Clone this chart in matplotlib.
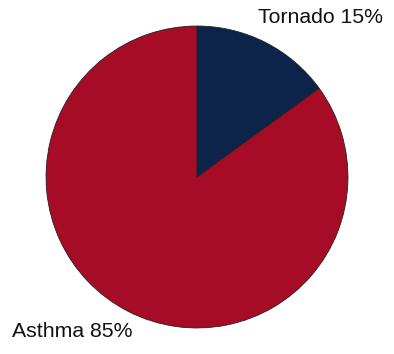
import matplotlib.pyplot as plt

labels = ["Tornado", "Asthma"]
shares = [15, 85]
colors = ["#0C244A", "#A60C26"]

fig = plt.figure(figsize=(3.94, 3.54), dpi=100)
ax = fig.add_axes([0, 0, 1, 1])

ax.pie(shares, colors=colors, startangle=90, counterclock=False,
       radius=1.0, center=(0, 0),
       wedgeprops=dict(edgecolor="#222222", linewidth=0.6))
ax.set_xlim(-1.305, 1.305)
ax.set_ylim(-1.172, 1.172)
ax.set_aspect("equal")
ax.axis("off")

font = ["Liberation Sans", "DejaVu Sans"]
fig.text(383 / 394, 1 - 23 / 354, "%s %d%%" % (labels[0], shares[0]),
         ha="right", va="baseline", fontsize=15.3, family=font, color="#111111")
fig.text(12 / 394, 1 - 337 / 354, "%s %d%%" % (labels[1], shares[1]),
         ha="left", va="baseline", fontsize=15.3, family=font, color="#111111")

fig.savefig("out.png", dpi=100)
